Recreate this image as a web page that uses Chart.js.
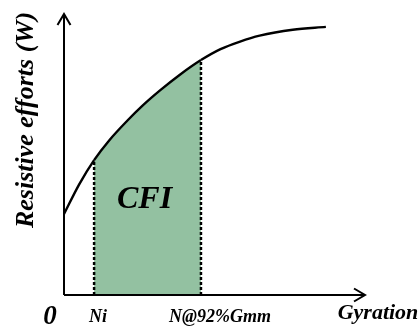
<!DOCTYPE html>
<html>
<head>
<meta charset="utf-8">
<script src="https://cdn.jsdelivr.net/npm/chart.js@4.4.1/dist/chart.umd.min.js"></script>
<style>
  html, body { margin: 0; padding: 0; background: #ffffff; }
  #wrap { width: 418px; height: 329px; position: relative; }
</style>
</head>
<body>
<div id="wrap"><canvas id="c"></canvas></div>
<script>
// Compaction curve: resistive effort against number of gyrations
const gyration = [0, 5, 10, 15, 21, 26, 32, 38.5, 45.5, 52, 58.5, 65, 76, 87];
const effort   = [28.8, 39.3, 48, 55, 62, 67.3, 72.9, 78.4, 83.6, 87.5, 90.2, 92.3, 94.4, 95.4];

// Gyration counts bounding the CFI area
const nInitial = 10;    // Ni
const nAt92 = 45.5;     // N@92%Gmm

const xTickLabels = ['0', 'Ni', 'N@92%Gmm'];
const xAxisTitle = 'Gyration';
const yAxisTitle = 'Resistive efforts (W)';
const areaLabel = 'CFI';

const FILL = 'rgb(147,193,161)';
const SERIF = '"Liberation Serif", "DejaVu Serif", serif';

const curvePoints = gyration.map((g, i) => ({ x: g, y: effort[i] }));
const effortAt = g => effort[gyration.indexOf(g)];

// Arrowed axes drawn along the chart area edges
const axesPlugin = {
  id: 'arrowAxes',
  afterDatasetsDraw(chart) {
    const { ctx, chartArea: a } = chart;
    ctx.save();
    ctx.strokeStyle = '#000';
    ctx.lineWidth = 2;
    ctx.lineCap = 'butt';
    ctx.beginPath();
    ctx.moveTo(a.left, a.bottom);
    ctx.lineTo(a.left, a.top + 1);
    ctx.moveTo(a.left, a.bottom);
    ctx.lineTo(a.right - 1, a.bottom);
    ctx.stroke();
    ctx.lineJoin = 'miter';
    ctx.beginPath();
    ctx.moveTo(a.left - 6.5, a.top + 11);
    ctx.lineTo(a.left, a.top);
    ctx.lineTo(a.left + 6.5, a.top + 11);
    ctx.moveTo(a.right - 11, a.bottom - 6.5);
    ctx.lineTo(a.right, a.bottom);
    ctx.lineTo(a.right - 11, a.bottom + 6.5);
    ctx.stroke();
    ctx.restore();
  }
};

// Axis labels, tick names and the area label
const labelPlugin = {
  id: 'labels',
  afterDraw(chart) {
    const { ctx, chartArea: a, scales: { x, y } } = chart;
    ctx.save();
    ctx.fillStyle = '#000';
    ctx.textAlign = 'center';
    ctx.textBaseline = 'middle';

    ctx.font = 'italic bold 27px ' + SERIF;
    ctx.fillText(xTickLabels[0], x.getPixelForValue(0) - 14, a.bottom + 22);

    ctx.font = 'italic bold 18px ' + SERIF;
    ctx.fillText(xTickLabels[1], x.getPixelForValue(nInitial) + 4, a.bottom + 22);
    ctx.fillText(xTickLabels[2], x.getPixelForValue(nAt92) + 19, a.bottom + 22);

    ctx.font = 'italic bold 22px ' + SERIF;
    ctx.fillText(xAxisTitle, a.right + 13, a.bottom + 18);

    ctx.font = 'italic bold 32px ' + SERIF;
    ctx.fillText(areaLabel, (x.getPixelForValue(nInitial) + x.getPixelForValue(nAt92)) / 2 - 3, y.getPixelForValue(34));

    ctx.save();
    ctx.translate(26, 120);
    ctx.rotate(-Math.PI / 2);
    ctx.font = 'italic bold 26px ' + SERIF;
    ctx.fillText(yAxisTitle, 0, 0);
    ctx.restore();

    ctx.restore();
  }
};

new Chart(document.getElementById('c'), {
  type: 'line',
  data: {
    datasets: [
      {
        data: curvePoints,
        borderColor: '#000',
        borderWidth: 2.4,
        backgroundColor: FILL,
        fill: 'origin',
        cubicInterpolationMode: 'monotone',
        pointRadius: 0,
        clip: false,
        segment: {
          backgroundColor: c =>
            (c.p0.parsed.x >= nInitial && c.p1.parsed.x <= nAt92) ? FILL : 'rgba(0,0,0,0)'
        }
      },
      {
        data: [{ x: nInitial, y: 0 }, { x: nInitial, y: effortAt(nInitial) }],
        borderColor: '#000',
        borderWidth: 2.5,
        borderDash: [3, 2],
        pointRadius: 0,
        fill: false
      },
      {
        data: [{ x: nAt92, y: 0 }, { x: nAt92, y: effortAt(nAt92) }],
        borderColor: '#000',
        borderWidth: 2.5,
        borderDash: [3, 2],
        pointRadius: 0,
        fill: false
      }
    ]
  },
  options: {
    responsive: true,
    maintainAspectRatio: false,
    animation: false,
    events: [],
    layout: { padding: { left: 64, right: 53, top: 14, bottom: 34 } },
    scales: {
      x: { type: 'linear', min: 0, max: 100, display: false },
      y: { type: 'linear', min: 0, max: 100, display: false }
    },
    plugins: {
      legend: { display: false },
      tooltip: { enabled: false },
      filler: { drawTime: 'beforeDatasetsDraw' }
    }
  },
  plugins: [axesPlugin, labelPlugin]
});
</script>
</body>
</html>
